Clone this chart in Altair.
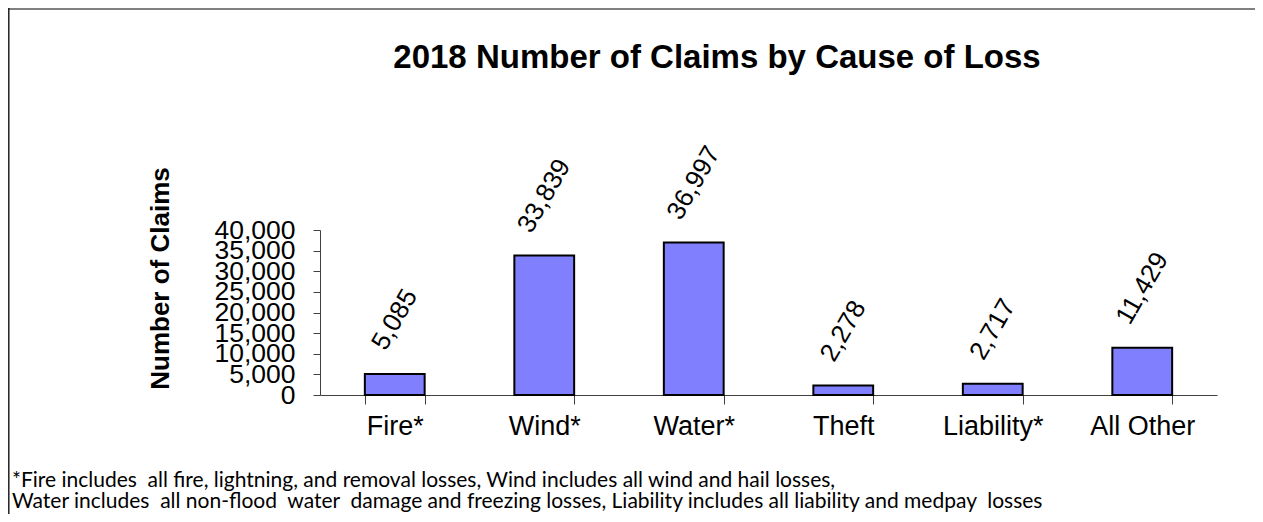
import altair as alt
import pandas as pd

# ---- data ----
categories = ["Fire*", "Wind*", "Water*", "Theft", "Liability*", "All Other"]
claims = [5085, 33839, 36997, 2278, 2717, 11429]
y_ticks = [0, 5000, 10000, 15000, 20000, 25000, 30000, 35000, 40000]
title_text = "2018 Number of Claims by Cause of Loss"
y_title = "Number of Claims"
footnote = [
    "*Fire includes  all fire, lightning, and removal losses, Wind includes all wind and hail losses,",
    "Water includes  all non-flood  water  damage and freezing losses, Liability includes all liability and medpay  losses",
]

df = pd.DataFrame({"cause": categories, "claims": claims})

PW, PH = 897, 165
AX = "#404040"
FONT = "Liberation Sans"

x_enc = alt.X(
    "cause:N",
    sort=categories,
    scale=alt.Scale(paddingInner=0.6, paddingOuter=0.3),
    axis=alt.Axis(
        title=None, labelAngle=0, tickBand="extent", tickSize=9, labelPadding=9,
        labelFontSize=27, labelFont=FONT, labelColor="black",
        domainColor=AX, tickColor=AX, grid=False, labelOverlap=False,
    ),
)
y_enc = alt.Y(
    "claims:Q",
    scale=alt.Scale(domain=[0, 40000], nice=False),
    axis=alt.Axis(
        values=y_ticks, format=",d", tickSize=7, labelPadding=18,
        labelFontSize=26.5, labelFont=FONT, labelColor="black", labelOverlap=False,
        domainColor=AX, tickColor=AX, grid=False,
        title=y_title, titleFont=FONT, titleFontSize=26, titleFontWeight="bold",
        titleColor="black", titleX=-160, titleY=48, titleAlign="center",
        titleBaseline="middle", titleAngle=270,
    ),
)

base = alt.Chart(df)
bars = base.mark_bar(color="#8080FF", stroke="black", strokeWidth=2).encode(x=x_enc, y=y_enc)

lab_short = base.transform_filter("datum.claims < 10000").mark_text(
    font=FONT, fontSize=26, angle=300, align="center", baseline="middle",
    dx=47.2, dy=-27.2, color="black",
).encode(x=x_enc, y=y_enc, text=alt.Text("claims:Q", format=",d"))
lab_long = base.transform_filter("datum.claims >= 10000").mark_text(
    font=FONT, fontSize=26, angle=300, align="center", baseline="middle",
    dx=51.5, dy=-29.7, color="black",
).encode(x=x_enc, y=y_enc, text=alt.Text("claims:Q", format=",d"))

one = pd.DataFrame({"k": [0]})
title_mark = alt.Chart(one).mark_text(
    font=FONT, fontSize=33, fontWeight="bold", align="center", baseline="middle", color="black"
).encode(text=alt.value(title_text), x=alt.value(397), y=alt.value(-172))

def keep_spaces(s):
    return s.replace("  ", "\u00a0 ")

foot1 = alt.Chart(one).mark_text(
    font="Lato", fontSize=21, align="left", baseline="middle", color="black"
).encode(text=alt.value(keep_spaces(footnote[0])), x=alt.value(-308), y=alt.value(251))
foot2 = alt.Chart(one).mark_text(
    font="Lato", fontSize=21, align="left", baseline="middle", color="black"
).encode(text=alt.value(keep_spaces(footnote[1])), x=alt.value(-308), y=alt.value(272))

border_top = alt.Chart(one).mark_rule(color="#808080", strokeWidth=2).encode(
    x=alt.value(-312), x2=alt.value(935), y=alt.value(-221)
)
border_left = alt.Chart(one).mark_rule(color="#202020", strokeWidth=1.5).encode(
    x=alt.value(-311.2), y=alt.value(-222), y2=alt.value(292)
)

chart = alt.layer(
    border_top, border_left, bars, lab_short, lab_long, title_mark, foot1, foot2
).properties(
    width=PW, height=PH,
    autosize=alt.AutoSizeParams(type="none"),
    padding={"left": 312, "top": 222, "right": 38, "bottom": 119},
    background="white",
).configure_view(stroke=None)

chart.save("out.html", embed_options={"renderer": "svg", "actions": False})
